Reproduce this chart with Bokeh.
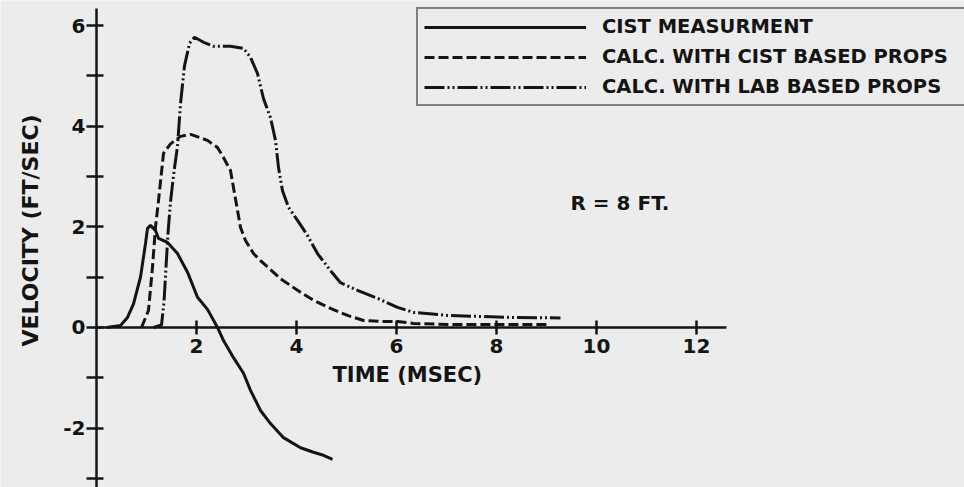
from bokeh.plotting import figure
from bokeh.models import Label, Legend, LegendItem, FixedTicker, Range1d
from bokeh.embed import file_html
from bokeh.resources import INLINE

# ---- data ----
meas_t = [0.20, 0.48, 0.62, 0.74, 0.88, 0.98, 1.02, 1.08, 1.18, 1.24, 1.42, 1.62, 1.82,
          2.02, 2.22, 2.42, 2.54, 2.74, 2.94, 3.08, 3.28, 3.48, 3.74, 4.08, 4.34, 4.54, 4.72]
meas_v = [0.0, 0.04, 0.20, 0.47, 1.00, 1.67, 1.97, 2.03, 1.93, 1.77, 1.69, 1.47, 1.10,
          0.60, 0.36, 0.0, -0.26, -0.60, -0.91, -1.25, -1.65, -1.91, -2.19, -2.39, -2.48, -2.54, -2.62]

cist_t = [0.90, 1.04, 1.12, 1.18, 1.24, 1.28, 1.34, 1.48, 1.68, 1.88, 1.94, 2.22, 2.42, 2.54,
          2.68, 2.74, 2.82, 2.88, 2.98, 3.14, 3.28, 3.68, 4.02, 4.34, 4.68, 5.02, 5.34, 5.68,
          6.02, 6.34, 7.02, 8.02, 9.02]
cist_v = [0.0, 0.34, 1.20, 2.00, 2.52, 2.90, 3.46, 3.65, 3.80, 3.84, 3.82, 3.72, 3.58, 3.38,
          3.12, 2.78, 2.33, 1.99, 1.73, 1.47, 1.33, 0.97, 0.74, 0.54, 0.38, 0.24, 0.14, 0.12,
          0.12, 0.08, 0.06, 0.06, 0.06]

lab_t = [1.14, 1.30, 1.35, 1.39, 1.43, 1.48, 1.55, 1.62, 1.68, 1.76, 1.86, 1.96, 2.14, 2.34,
         2.68, 2.94, 3.08, 3.22, 3.34, 3.48, 3.58, 3.64, 3.72, 3.84, 4.02, 4.22, 4.42, 4.68,
         4.88, 5.22, 5.62, 6.02, 6.34, 7.02, 7.68, 8.34, 9.28]
lab_v = [0.0, 0.05, 0.50, 1.20, 1.87, 2.50, 3.10, 3.60, 4.45, 5.20, 5.65, 5.77, 5.67, 5.59,
         5.59, 5.55, 5.37, 5.05, 4.55, 4.17, 3.72, 3.18, 2.72, 2.39, 2.13, 1.83, 1.47, 1.13,
         0.89, 0.74, 0.58, 0.40, 0.30, 0.24, 0.22, 0.20, 0.19]

x_ticks = [2, 4, 6, 8, 10, 12]
y_ticks = [-3, -2, -1, 0, 1, 2, 3, 4, 5, 6]
y_tick_labels = {-3: "", -2: "-2", -1: "", 0: "0", 1: "", 2: "2", 3: "", 4: "4", 5: "", 6: "6"}

series_names = ["CIST MEASURMENT", "CALC. WITH CIST BASED PROPS", "CALC. WITH LAB BASED PROPS"]

BG = "#ececec"
INK = "#141414"
FONT = "DejaVu Sans"

p = figure(width=964, height=487,
           x_range=Range1d(-1.92, 17.36), y_range=Range1d(-3.181, 6.501),
           output_backend="svg", toolbar_location=None, min_border=0,
           background_fill_color=BG, border_fill_color=BG, outline_line_color=None)
p.xgrid.visible = False
p.ygrid.visible = False

xa = p.xaxis[0]
xa.fixed_location = 0
xa.bounds = (0, 12.6)
xa.ticker = FixedTicker(ticks=x_ticks)
ya = p.yaxis[0]
ya.fixed_location = 0
ya.bounds = (-3.5, 6.35)
ya.ticker = FixedTicker(ticks=y_ticks)
ya.major_label_overrides = {float(k): v for k, v in y_tick_labels.items()}

for ax in (xa, ya):
    ax.axis_line_color = INK
    ax.axis_line_width = 2.5
    ax.major_tick_line_color = INK
    ax.major_tick_line_width = 2.5
    ax.minor_tick_line_color = None
    ax.major_label_text_font = FONT
    ax.major_label_text_font_style = "bold"
    ax.major_label_text_font_size = "20px"
    ax.major_label_text_color = INK
xa.major_tick_in = 7
xa.major_tick_out = 7
xa.major_label_standoff = 5
ya.major_tick_in = 7
ya.major_tick_out = 10
ya.major_label_standoff = 1

r1 = p.line(meas_t, meas_v, line_color=INK, line_width=3)
r2 = p.line(cist_t, cist_v, line_color=INK, line_width=3, line_dash="10 4")
r3 = p.line(lab_t, lab_v, line_color=INK, line_width=3, line_dash="20 3 2 3 2 3")

legend = Legend(items=[LegendItem(label=series_names[0], renderers=[r1]),
                       LegendItem(label=series_names[1], renderers=[r2]),
                       LegendItem(label=series_names[2], renderers=[r3])],
                location=(416, 381), orientation="vertical",
                glyph_width=162, glyph_height=20, label_height=20, label_width=370,
                label_standoff=16, spacing=7, padding=6, margin=0,
                border_line_color=INK, border_line_width=2,
                background_fill_color=BG, background_fill_alpha=1.0,
                label_text_font=FONT, label_text_font_style="bold",
                label_text_font_size="19.5px", label_text_color=INK)
p.add_layout(legend)

p.add_layout(Label(x=9.48, y=2.47, text="R = 8 FT.", text_font=FONT, text_font_style="bold",
                   text_font_size="20px", text_color=INK, text_baseline="middle", text_align="left"))
p.add_layout(Label(x=4.72, y=-0.95, text="TIME  (MSEC)", text_font=FONT, text_font_style="bold",
                   text_font_size="21px", text_color=INK, text_baseline="middle", text_align="left"))
p.add_layout(Label(x=-1.32, y=1.93, text="VELOCITY (FT/SEC)", angle=1.5708, text_font=FONT,
                   text_font_style="bold", text_font_size="22px", text_color=INK,
                   text_baseline="middle", text_align="center"))

open("out.html", "w").write(file_html(p, INLINE))
